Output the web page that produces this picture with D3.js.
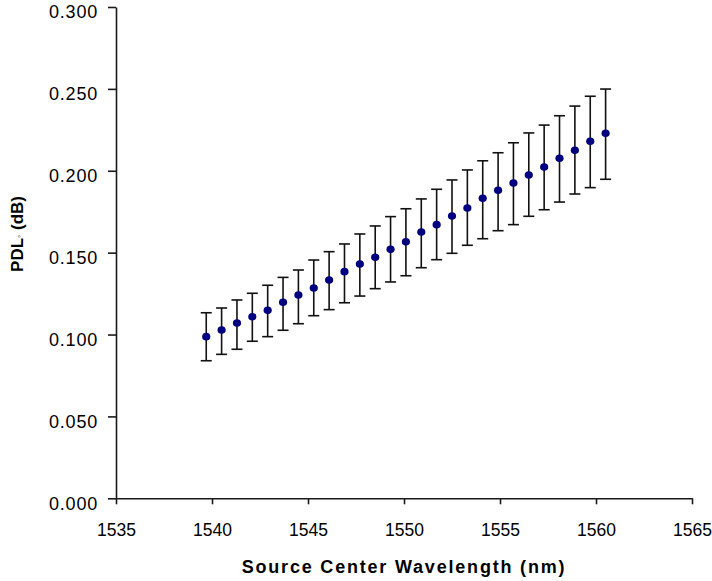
<!DOCTYPE html>
<html>
<head>
<meta charset="utf-8">
<script src="https://cdn.jsdelivr.net/npm/d3@7"></script>
<style>
  html, body { margin: 0; padding: 0; background: #fff; }
  svg { display: block; }
  text { font-family: "Liberation Sans", Arial, sans-serif; fill: #000; }
</style>
</head>
<body>
<svg id="chart" width="712" height="581"></svg>
<script>
// Source centre wavelength (nm)
const wavelength = [1539.7, 1540.5, 1541.3, 1542.1, 1542.9, 1543.7, 1544.5, 1545.3, 1546.1,
                    1546.9, 1547.7, 1548.5, 1549.3, 1550.1, 1550.9, 1551.7, 1552.5, 1553.3,
                    1554.1, 1554.9, 1555.7, 1556.5, 1557.3, 1558.1, 1558.9, 1559.7, 1560.5];
// Mean PDL (dB)
const pdl = [0.0987, 0.1028, 0.1070, 0.1109, 0.1148, 0.1197, 0.1241, 0.1284, 0.1333,
             0.1384, 0.1431, 0.1472, 0.1520, 0.1567, 0.1626, 0.1671, 0.1724, 0.1773,
             0.1832, 0.1881, 0.1925, 0.1974, 0.2023, 0.2076, 0.2125, 0.2180, 0.2229];
// Error bar ends (dB)
const pdlUpper = [0.1133, 0.1162, 0.1211, 0.1252, 0.1301, 0.1349, 0.1394, 0.1455, 0.1506,
                  0.1553, 0.1614, 0.1663, 0.1720, 0.1768, 0.1828, 0.1887, 0.1944, 0.2005,
                  0.2061, 0.2110, 0.2171, 0.2231, 0.2279, 0.2336, 0.2395, 0.2455, 0.2499];
const pdlLower = [0.0840, 0.0879, 0.0910, 0.0959, 0.0987, 0.1026, 0.1066, 0.1115, 0.1152,
                  0.1194, 0.1235, 0.1280, 0.1321, 0.1359, 0.1408, 0.1457, 0.1496, 0.1545,
                  0.1585, 0.1634, 0.1671, 0.1722, 0.1762, 0.1809, 0.1858, 0.1897, 0.1948];

const xTicks = [1535, 1540, 1545, 1550, 1555, 1560, 1565];
const yTicks = [0.000, 0.050, 0.100, 0.150, 0.200, 0.250, 0.300];

const svg = d3.select("#chart");

const x = d3.scaleLinear().domain([1535, 1565]).range([116, 692]);
const y = d3.scaleLinear().domain([0, 0.3]).range([498.3, 7]);

const axisColor = "#1a1a1a";

// Y axis
const yAxis = svg.append("g")
  .attr("transform", `translate(${x(1535)},0)`)
  .call(d3.axisLeft(y).tickValues(yTicks).tickFormat(d3.format(".3f"))
        .tickSize(8).tickSizeOuter(0).tickPadding(10));
yAxis.select(".domain").attr("stroke", axisColor).attr("stroke-width", 1.6);
yAxis.selectAll(".tick line").attr("stroke", axisColor).attr("stroke-width", 1.6);
yAxis.selectAll(".tick text")
  .attr("font-size", 18).attr("letter-spacing", "0.8px")
  .attr("font-family", "Liberation Sans, Arial, sans-serif")
  .attr("fill", "#000").attr("dy", "0.6em");

// X axis
const xAxis = svg.append("g")
  .attr("transform", `translate(0,${y(0)})`)
  .call(d3.axisBottom(x).tickValues(xTicks).tickFormat(d3.format("d"))
        .tickSize(6).tickSizeOuter(0).tickPadding(19));
xAxis.select(".domain").attr("stroke", axisColor).attr("stroke-width", 1.6);
xAxis.selectAll(".tick line").attr("stroke", axisColor).attr("stroke-width", 1.6);
xAxis.selectAll(".tick text")
  .attr("font-size", 17.5)
  .attr("font-family", "Liberation Sans, Arial, sans-serif")
  .attr("fill", "#000");

// Axis titles
svg.append("text")
  .attr("x", 404).attr("y", 572.5)
  .attr("text-anchor", "middle")
  .attr("font-size", 18).attr("font-weight", "bold")
  .attr("letter-spacing", "1.8px")
  .text("Source Center Wavelength (nm)");

const yTitle = svg.append("text")
  .attr("transform", "translate(23,234) rotate(-90)")
  .attr("text-anchor", "middle")
  .attr("font-size", 17).attr("font-weight", "bold");
yTitle.append("tspan").text("PDL");
yTitle.append("tspan").attr("font-size", 9).attr("dy", -1).text("◦");
yTitle.append("tspan").attr("dy", 1).text(" (dB)");

// Error bars
const data = wavelength.map((w, i) => ({ w, v: pdl[i], hi: pdlUpper[i], lo: pdlLower[i] }));
const cap = 5.5;
const bars = svg.append("g").attr("stroke", "#111").attr("stroke-width", 1.6);
bars.selectAll("line.stem").data(data).join("line").attr("class", "stem")
  .attr("x1", d => x(d.w)).attr("x2", d => x(d.w))
  .attr("y1", d => y(d.hi)).attr("y2", d => y(d.lo));
bars.selectAll("line.top").data(data).join("line").attr("class", "top")
  .attr("x1", d => x(d.w) - cap).attr("x2", d => x(d.w) + cap)
  .attr("y1", d => y(d.hi)).attr("y2", d => y(d.hi));
bars.selectAll("line.bot").data(data).join("line").attr("class", "bot")
  .attr("x1", d => x(d.w) - cap).attr("x2", d => x(d.w) + cap)
  .attr("y1", d => y(d.lo)).attr("y2", d => y(d.lo));

// Points
svg.append("g").selectAll("ellipse").data(data).join("ellipse")
  .attr("cx", d => x(d.w)).attr("cy", d => y(d.v))
  .attr("rx", 4.1).attr("ry", 3.8)
  .attr("fill", "#000080");
</script>
</body>
</html>
